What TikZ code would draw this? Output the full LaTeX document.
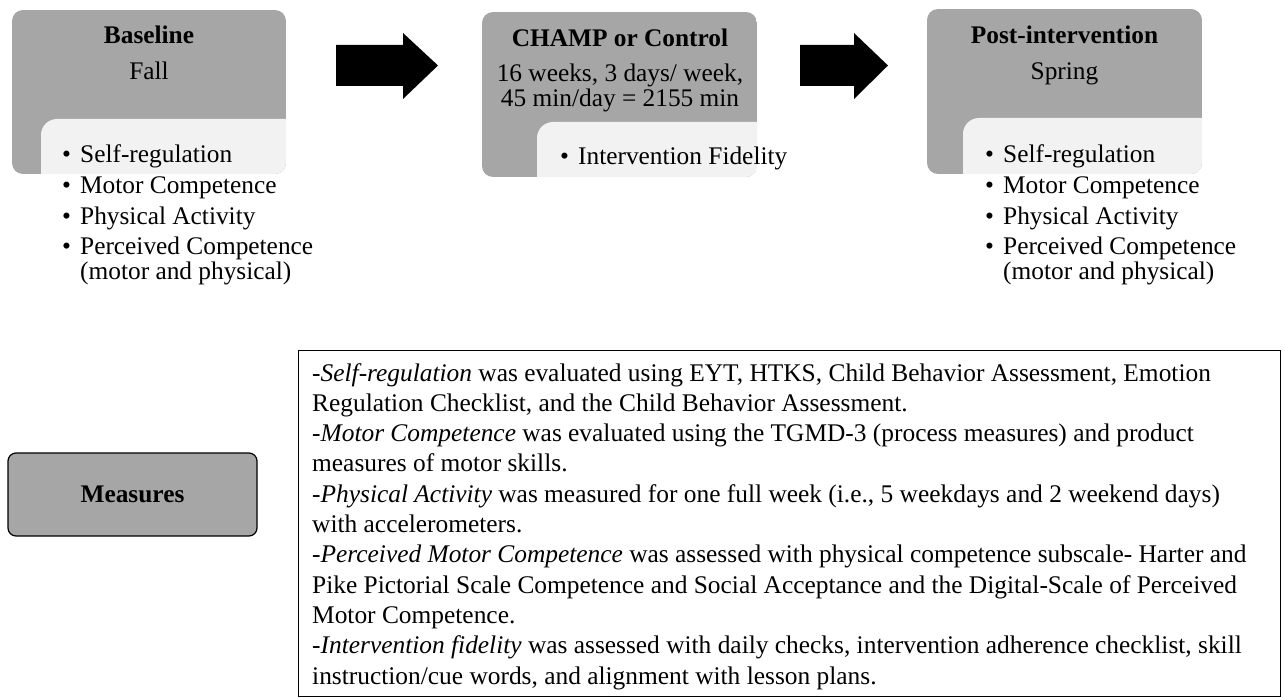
\documentclass[tikz,border=0pt]{standalone}
\usepackage{fontspec}
\setmainfont{Liberation Serif}
\usetikzlibrary{calc}
\definecolor{boxgray}{HTML}{A6A6A6}
\definecolor{insetgray}{HTML}{F2F2F2}
\begin{document}
\begin{tikzpicture}[x=1pt,y=-1pt,
  txt/.style={inner sep=0pt, font=\fontsize{25.35}{25}\selectfont},
  lst/.style={inner sep=0pt, anchor=north west, align=left, font=\fontsize{25.35}{25}\selectfont},
  body/.style={inner sep=0pt, anchor=north west, align=left, font=\fontsize{25.4}{30.3}\selectfont},
  stage/.style={inner sep=0pt, outer sep=0pt, anchor=north west, rectangle},
  mbox/.style={draw=black, line width=1.2pt, fill=boxgray, rounded corners=8pt, minimum width=249pt, minimum height=83pt, inner sep=0pt, font=\fontsize{25.35}{25}\selectfont\bfseries},
  blockarrow/.style={fill=black}
]
\useasboundingbox (0,0) rectangle (1285,698);
\newcommand{\bul}{\makebox[18pt][l]{•}}
% ---------- stage boxes ----------
\begin{scope}
  \clip[rounded corners=11pt] (12,10) rectangle (286,174);
  \fill[boxgray] (12,10) rectangle (286,174);
  \fill[insetgray, rounded corners=16pt] (41,119) rectangle (330,230);
\end{scope}
\begin{scope}
  \clip[rounded corners=11pt] (482,12) rectangle (757,177);
  \fill[boxgray] (482,12) rectangle (757,177);
  \fill[insetgray, rounded corners=16pt] (537,122) rectangle (800,230);
\end{scope}
\begin{scope}
  \clip[rounded corners=11pt] (927,9) rectangle (1202,174);
  \fill[boxgray] (927,9) rectangle (1202,174);
  \fill[insetgray, rounded corners=16pt] (963,118) rectangle (1250,230);
\end{scope}
\node[stage, minimum width=274pt, minimum height=164pt] (s1) at (12,10) {};
\node[stage, minimum width=275pt, minimum height=165pt] (s2) at (482,12) {};
\node[stage, minimum width=275pt, minimum height=165pt] (s3) at (927,9) {};

% headings
\node[txt, anchor=base] (h1) at (149,44) {\textbf{Baseline}};
\node[txt, anchor=base] (h1b) at (149,80) {Fall};
\node[txt, anchor=base] (h2) at (620,47) {\textbf{CHAMP or Control}};
\node[txt, anchor=base] (h2b) at (620,82) {16 weeks, 3 days/ week,};
\node[txt, anchor=base] (h2c) at (620,107) {45 min/day = 2155 min};
\node[txt, anchor=base] (h3) at (1064.5,44) {\textbf{Post-intervention}};
\node[txt, anchor=base] (h3b) at (1064.5,80) {Spring};

% bullet lists
\node[lst] (l1) at (62,144.7) {\bul Self-regulation\\[5.7pt]\bul Motor Competence\\[5.7pt]\bul Physical Activity\\[5.7pt]\bul Perceived Competence\\\hspace*{18pt}(motor and physical)};
\node[lst] (l2) at (560,146.7) {\bul Intervention Fidelity};
\node[lst] (l3) at (985,144.7) {\bul Self-regulation\\[5.7pt]\bul Motor Competence\\[5.7pt]\bul Physical Activity\\[5.7pt]\bul Perceived Competence\\\hspace*{18pt}(motor and physical)};

% block arrows
\coordinate (a1) at (336,65.5);
\coordinate (a1t) at (438,65.5);
\coordinate (a2) at (800,65.5);
\coordinate (a2t) at (888,65.5);
\fill[blockarrow] ($(a1)+(0,-20.5)$) -- ($(a1t)+(-35,-20.5)$) -- ($(a1t)+(-35,-32.5)$) -- (a1t)
  -- ($(a1t)+(-35,33.5)$) -- ($(a1t)+(-35,20.5)$) -- ($(a1)+(0,20.5)$) -- cycle;
\fill[blockarrow] ($(a2)+(0,-20.5)$) -- ($(a2t)+(-34,-20.5)$) -- ($(a2t)+(-34,-32.5)$) -- (a2t)
  -- ($(a2t)+(-34,33.5)$) -- ($(a2t)+(-34,20.5)$) -- ($(a2)+(0,20.5)$) -- cycle;

% measures
\node[mbox] (meas) at (132.5,494.5) {Measures};
\node[draw=black, line width=1.4pt, anchor=north west, minimum width=982pt, minimum height=346pt, inner sep=0pt] (tbox) at (298,350) {};
\node[body] (tt) at (312,363) {%
-\textit{Self-regulation} was evaluated using EYT, HTKS, Child Behavior Assessment, Emotion\\
Regulation Checklist, and the Child Behavior Assessment.\\
-\textit{Motor Competence} was evaluated using the TGMD-3 (process measures) and product\\
measures of motor skills.\\
-\textit{Physical Activity} was measured for one full week (i.e., 5 weekdays and 2 weekend days)\\
with accelerometers.\\
-\textit{Perceived Motor Competence} was assessed with physical competence subscale- Harter and\\
Pike Pictorial Scale Competence and Social Acceptance and the Digital-Scale of Perceived\\
Motor Competence.\\
-\textit{Intervention fidelity} was assessed with daily checks, intervention adherence checklist, skill\\
instruction/cue words, and alignment with lesson plans.};
\end{tikzpicture}
\end{document}
